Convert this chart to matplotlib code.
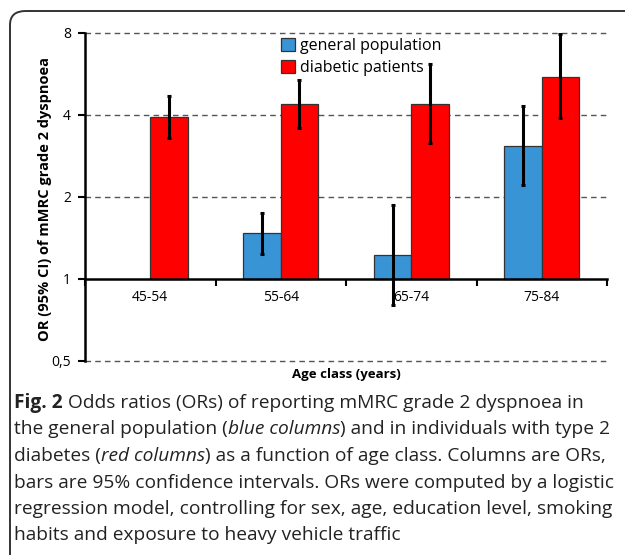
import numpy as np
import matplotlib
matplotlib.use("Agg")
import matplotlib.pyplot as plt
from matplotlib.patches import FancyBboxPatch
from matplotlib.ticker import FixedLocator, NullFormatter

# ---------------------------------------------------------------------------
# Data
# ---------------------------------------------------------------------------
AGE_CLASSES = ["45-54", "55-64", "65-74", "75-84"]
SERIES      = ["general population", "diabetic patients"]

general_or  = [np.nan, 1.47, 1.22, 3.09]
general_lo  = [np.nan, 1.24, 0.80, 2.21]
general_hi  = [np.nan, 1.74, 1.87, 4.32]

diabetic_or = [3.92, 4.38, 4.38, 5.53]
diabetic_lo = [3.28, 3.57, 3.15, 3.91]
diabetic_hi = [4.71, 5.38, 6.14, 7.90]

Y_TICKS  = [0.5, 1, 2, 4, 8]
Y_LABELS = ["0,5", "1", "2", "4", "8"]

CAPTION = [
    [("Fig. 2", "bold"), (" ", "normal"), ("Odds ratios (ORs) of reporting mMRC grade 2 dyspnoea in", "normal")],
    [("the general population (", "normal"), ("blue columns", "italic"), (") and in individuals with type 2", "normal")],
    [("diabetes (", "normal"), ("red columns", "italic"), (") as a function of age class. Columns are ORs,", "normal")],
    [("bars are 95% confidence intervals. ORs were computed by a logistic", "normal")],
    [("regression model, controlling for sex, age, education level, smoking", "normal")],
    [("habits and exposure to heavy vehicle traffic", "normal")],
]

FONT = "Open Sans"
W, H = 625, 555

plt.rcParams["font.family"] = [FONT, "DejaVu Sans"]

fig = plt.figure(figsize=(W / 100, H / 100), dpi=100)

# rounded frame (cut off at right and bottom as in the original)
frame = FancyBboxPatch((10 / W, -0.05), 1.2, (H - 11) / H + 0.05,
                       boxstyle="round,pad=0,rounding_size=0.025",
                       transform=fig.transFigure, fill=False,
                       edgecolor="#333333", linewidth=1.4)
fig.patches.append(frame)

ax = fig.add_axes([85 / W, 1 - 361 / H, (607 - 85) / W, (361 - 33) / H])
ax.set_yscale("log", base=2)
ax.set_ylim(0.5, 8)
ax.set_xlim(-0.5, len(AGE_CLASSES) - 0.5)

x = np.arange(len(AGE_CLASSES))
bw = 0.287
blue = "#3994D6"
red = "#FF0000"

for vals, lo, hi, off, col, lab in [
    (general_or, general_lo, general_hi, -bw / 2, blue, SERIES[0]),
    (diabetic_or, diabetic_lo, diabetic_hi, bw / 2, red, SERIES[1]),
]:
    vals = np.array(vals)
    heights = vals - 1
    ax.bar(x + off, heights, bw, bottom=1, color=col, edgecolor="#333333",
           linewidth=0.9, label=lab, zorder=3)
    err = np.vstack([vals - np.array(lo), np.array(hi) - vals])
    ax.errorbar(x + off, vals, yerr=err, fmt="none", ecolor="black",
                elinewidth=2.2, capsize=1.5, capthick=2.2, zorder=4)

# gridlines
for yv in Y_TICKS:
    if yv != 1:
        ax.axhline(yv, color="#555555", linewidth=1, linestyle=(0, (4, 3)),
                   zorder=1, clip_on=False)

for s in ["top", "right"]:
    ax.spines[s].set_visible(False)
ax.spines["bottom"].set_position(("data", 1))
ax.spines["bottom"].set_linewidth(1.8)
ax.spines["left"].set_linewidth(1.8)
ax.spines["left"].set_zorder(5)
ax.spines["bottom"].set_zorder(5)

ax.yaxis.set_major_locator(FixedLocator(Y_TICKS))
ax.yaxis.set_minor_locator(FixedLocator([]))
ax.set_yticklabels(Y_LABELS, fontsize=10)
ax.tick_params(axis="y", direction="out", length=5, width=1.5, pad=5)

ax.xaxis.set_major_locator(FixedLocator(np.arange(len(AGE_CLASSES) + 1) - 0.5))
ax.xaxis.set_major_formatter(NullFormatter())
ax.xaxis.set_minor_locator(FixedLocator(x))
ax.set_xticklabels(AGE_CLASSES, minor=True, fontsize=10)
ax.tick_params(axis="x", which="major", direction="out", length=5, width=1.5)
ax.tick_params(axis="x", which="minor", length=0, pad=8)

fig.text(45 / W, 1 - 199 / H, "OR (95% CI) of mMRC grade 2 dyspnoea",
         fontsize=10.5, fontweight="bold", rotation=90,
         ha="center", va="center")
fig.text(346 / W, 1 - 378 / H, "Age class (years)", fontsize=9.5,
         fontweight="bold", ha="center", va="baseline")

leg = ax.legend(loc="upper left", bbox_to_anchor=((275 - 85) / 522, 1.005),
                frameon=False, fontsize=11.5, handlelength=0.85,
                handleheight=0.85, handletextpad=0.3, labelspacing=0.4,
                borderaxespad=0)

# caption with mixed styles
renderer = fig.canvas.get_renderer()
cap_size = 13.8
baselines = [408, 434.5, 461, 487.5, 514, 540.5]
space = None
for line, yb in zip(CAPTION, baselines):
    xp = 14
    for txt, style in line:
        if txt == " ":
            if space is None:
                a = fig.text(0, 0, "a a", fontsize=cap_size)
                b = fig.text(0, 0, "aa", fontsize=cap_size)
                space = (a.get_window_extent(renderer).width
                         - b.get_window_extent(renderer).width)
                a.remove(); b.remove()
            xp += space
            continue
        t = fig.text(xp / W, 1 - yb / H, txt, fontsize=cap_size, va="baseline",
                     ha="left", color="#222222",
                     fontweight="bold" if style == "bold" else "normal",
                     fontstyle="italic" if style == "italic" else "normal")
        xp = t.get_window_extent(renderer).x1

fig.savefig("out.png", dpi=100)
